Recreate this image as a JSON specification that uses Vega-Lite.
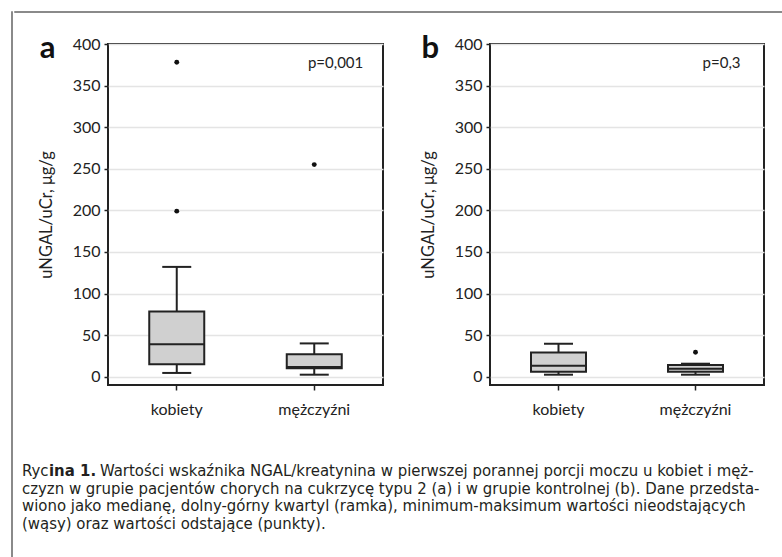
{
  "$schema": "https://vega.github.io/schema/vega-lite/v6.json",
  "padding": {"left": 10, "top": 10, "right": 0, "bottom": 0},
  "autosize": {"type": "pad"},
  "background": "white",
  "config": {
    "font": "Lato",
    "view": {"stroke": null},
    "concat": {"spacing": 0}
  },
  "datasets": {
    "boxA": [
      {"group": "kobiety", "min": 4.5, "q1": 15, "median": 39, "q3": 78.5, "max": 132},
      {"group": "mężczyźni", "min": 2.4, "q1": 10, "median": 11.5, "q3": 27, "max": 40}
    ],
    "outA": [
      {"group": "kobiety", "value": 378},
      {"group": "kobiety", "value": 199},
      {"group": "mężczyźni", "value": 255}
    ],
    "boxB": [
      {"group": "kobiety", "min": 2.4, "q1": 6, "median": 13, "q3": 29, "max": 39.6},
      {"group": "mężczyźni", "min": 2.4, "q1": 6, "median": 9.5, "q3": 14, "max": 15.6}
    ],
    "outB": [
      {"group": "mężczyźni", "value": 29.3}
    ],
    "caption": [
      {"line": 1, "seg": "a", "pos": 0, "text": "Ryc"},
      {"line": 1, "seg": "b", "pos": 0, "text": "ina 1."},
      {"line": 1, "seg": "c", "pos": 0, "text": "Wartości wskaźnika NGAL/kreatynina w pierwszej porannej porcji moczu u kobiet i męż-"},
      {"line": 2, "seg": "a", "pos": 0, "text": "czyzn w grupie pacjentów chorych na cukrzycę typu 2 (a) i w grupie kontrolnej (b). Dane przedsta-"},
      {"line": 3, "seg": "a", "pos": 0, "text": "wiono jako medianę, dolny-górny kwartyl (ramka), minimum-maksimum wartości nieodstających"},
      {"line": 4, "seg": "a", "pos": 0, "text": "(wąsy) oraz wartości odstające (punkty)."}
    ]
  },
  "hconcat": [
    {
      "width": 1, "height": 547,
      "view": {"stroke": "#8a8a8a", "strokeWidth": 1},
      "data": {"values": []},
      "mark": "point"
    },
    {
      "vconcat": [
        {
          "width": 772, "height": 1,
          "view": {"stroke": "#8a8a8a", "strokeWidth": 1},
          "data": {"values": []},
          "mark": "point"
        },
        {
          "vconcat": [
            {
              "hconcat": [
                {
                  "width": 13, "height": 10,
                  "data": {"values": []},
                  "mark": "point"
                },
                {
                  "hconcat": [
                    {
                      "width": 275, "height": 341,
                      "view": {"stroke": "#222222", "strokeWidth": 2},
                      "encoding": {
                        "x": {"field": "group", "type": "nominal", "title": null,
                          "scale": {"domain": ["kobiety", "mężczyźni"], "paddingInner": 0, "paddingOuter": 0},
                          "axis": {"labelAngle": 0, "domain": false, "ticks": true, "tickSize": 5, "tickColor": "#222222", "tickWidth": 1.5, "labelFont": "Lato", "labelFontSize": 16, "labelColor": "#222222", "labelPadding": 11, "grid": false}}
                      },
                      "layer": [
                        {
                          "data": {"name": "boxA"},
                          "mark": {"type": "rule", "color": "#222222", "strokeWidth": 2},
                          "encoding": {
                            "y": {"field": "min", "type": "quantitative", "title": "uNGAL/uCr,  μg/g",
                              "scale": {"domain": [-10, 400], "nice": false, "zero": false},
                              "axis": {"values": [0, 50, 100, 150, 200, 250, 300, 350, 400], "grid": true, "gridColor": "#e4e4e4", "gridWidth": 1.5, "domain": false, "tickSize": 4, "tickColor": "#222222", "tickWidth": 1.5, "labelFont": "Lato", "labelFontSize": 16, "labelColor": "#222222", "labelPadding": 4, "titleFont": "Lato", "titleFontSize": 16.5, "titleFontWeight": "normal", "titleColor": "#222222", "titlePadding": 18}},
                            "y2": {"field": "max"}
                          }
                        },
                        {
                          "data": {"name": "boxA"},
                          "mark": {"type": "bar", "width": 55, "fill": "#d0d0d0", "stroke": "#222222", "strokeWidth": 2},
                          "encoding": {
                            "y": {"field": "q1", "type": "quantitative", "title": "uNGAL/uCr,  μg/g"},
                            "y2": {"field": "q3"}
                          }
                        },
                        {
                          "data": {"name": "boxA"},
                          "mark": {"type": "tick", "size": 55, "thickness": 2, "color": "#222222", "opacity": 1},
                          "encoding": {"y": {"field": "median", "type": "quantitative", "title": "uNGAL/uCr,  μg/g"}}
                        },
                        {
                          "data": {"name": "boxA"},
                          "mark": {"type": "tick", "size": 29, "thickness": 2, "color": "#222222", "opacity": 1},
                          "encoding": {"y": {"field": "min", "type": "quantitative", "title": "uNGAL/uCr,  μg/g"}}
                        },
                        {
                          "data": {"name": "boxA"},
                          "mark": {"type": "tick", "size": 29, "thickness": 2, "color": "#222222", "opacity": 1},
                          "encoding": {"y": {"field": "max", "type": "quantitative", "title": "uNGAL/uCr,  μg/g"}}
                        },
                        {
                          "data": {"name": "outA"},
                          "mark": {"type": "circle", "size": 24, "color": "#111111", "opacity": 1},
                          "encoding": {"y": {"field": "value", "type": "quantitative", "title": "uNGAL/uCr,  μg/g"}}
                        },
                        {
                          "data": {"values": [{}]},
                          "mark": {"type": "text", "align": "right", "baseline": "middle", "dx": 49, "dy": 19, "fontSize": 15, "font": "Lato", "color": "#222222"},
                          "encoding": {"x": {"datum": "mężczyźni"}, "y": {"datum": 400}, "text": {"value": "p=0,001"}}
                        },
                        {
                          "data": {"values": [{}]},
                          "mark": {"type": "text", "align": "left", "baseline": "alphabetic", "dx": -137, "dy": 14, "fontSize": 31, "fontWeight": "bold", "font": "Lato", "color": "#111111"},
                          "encoding": {"x": {"datum": "kobiety"}, "y": {"datum": 400}, "text": {"value": "a"}}
                        }
                      ]
                    },
                    {
                      "width": 274, "height": 341,
                      "view": {"stroke": "#222222", "strokeWidth": 2},
                      "encoding": {
                        "x": {"field": "group", "type": "nominal", "title": null,
                          "scale": {"domain": ["kobiety", "mężczyźni"], "paddingInner": 0, "paddingOuter": 0},
                          "axis": {"labelAngle": 0, "domain": false, "ticks": true, "tickSize": 5, "tickColor": "#222222", "tickWidth": 1.5, "labelFont": "Lato", "labelFontSize": 16, "labelColor": "#222222", "labelPadding": 11, "grid": false}}
                      },
                      "layer": [
                        {
                          "data": {"name": "boxB"},
                          "mark": {"type": "rule", "color": "#222222", "strokeWidth": 2},
                          "encoding": {
                            "y": {"field": "min", "type": "quantitative", "title": "uNGAL/uCr,  μg/g",
                              "scale": {"domain": [-10, 400], "nice": false, "zero": false},
                              "axis": {"values": [0, 50, 100, 150, 200, 250, 300, 350, 400], "grid": true, "gridColor": "#e4e4e4", "gridWidth": 1.5, "domain": false, "tickSize": 4, "tickColor": "#222222", "tickWidth": 1.5, "labelFont": "Lato", "labelFontSize": 16, "labelColor": "#222222", "labelPadding": 4, "titleFont": "Lato", "titleFontSize": 16.5, "titleFontWeight": "normal", "titleColor": "#222222", "titlePadding": 18}},
                            "y2": {"field": "max"}
                          }
                        },
                        {
                          "data": {"name": "boxB"},
                          "mark": {"type": "bar", "width": 55, "fill": "#d0d0d0", "stroke": "#222222", "strokeWidth": 2},
                          "encoding": {
                            "y": {"field": "q1", "type": "quantitative", "title": "uNGAL/uCr,  μg/g"},
                            "y2": {"field": "q3"}
                          }
                        },
                        {
                          "data": {"name": "boxB"},
                          "mark": {"type": "tick", "size": 55, "thickness": 2, "color": "#222222", "opacity": 1},
                          "encoding": {"y": {"field": "median", "type": "quantitative", "title": "uNGAL/uCr,  μg/g"}}
                        },
                        {
                          "data": {"name": "boxB"},
                          "mark": {"type": "tick", "size": 29, "thickness": 2, "color": "#222222", "opacity": 1},
                          "encoding": {"y": {"field": "min", "type": "quantitative", "title": "uNGAL/uCr,  μg/g"}}
                        },
                        {
                          "data": {"name": "boxB"},
                          "mark": {"type": "tick", "size": 29, "thickness": 2, "color": "#222222", "opacity": 1},
                          "encoding": {"y": {"field": "max", "type": "quantitative", "title": "uNGAL/uCr,  μg/g"}}
                        },
                        {
                          "data": {"name": "outB"},
                          "mark": {"type": "circle", "size": 24, "color": "#111111", "opacity": 1},
                          "encoding": {"y": {"field": "value", "type": "quantitative", "title": "uNGAL/uCr,  μg/g"}}
                        },
                        {
                          "data": {"values": [{}]},
                          "mark": {"type": "text", "align": "right", "baseline": "middle", "dx": 45, "dy": 19, "fontSize": 15, "font": "Lato", "color": "#222222"},
                          "encoding": {"x": {"datum": "mężczyźni"}, "y": {"datum": 400}, "text": {"value": "p=0,3"}}
                        },
                        {
                          "data": {"values": [{}]},
                          "mark": {"type": "text", "align": "left", "baseline": "alphabetic", "dx": -137, "dy": 14, "fontSize": 31, "fontWeight": "bold", "font": "Lato", "color": "#111111"},
                          "encoding": {"x": {"datum": "kobiety"}, "y": {"datum": 400}, "text": {"value": "b"}}
                        }
                      ]
                    }
                  ],
                  "spacing": 35
                }
              ],
              "spacing": 10
            },
            {
              "width": 752, "height": 53,
              "data": {"name": "caption"},
              "encoding": {
                "y": {"field": "line", "type": "ordinal", "scale": {"type": "point", "padding": 0}, "axis": null},
                "x": {"field": "pos", "type": "quantitative", "scale": {"domain": [0, 1]}, "axis": null},
                "text": {"field": "text"}
              },
              "layer": [
                {
                  "transform": [{"filter": "datum.seg == 'a'"}],
                  "mark": {"type": "text", "align": "left", "baseline": "middle", "dx": 8, "font": "DejaVu Sans Condensed", "fontSize": 16.6, "color": "#231f20"}
                },
                {
                  "transform": [{"filter": "datum.seg == 'b'"}],
                  "mark": {"type": "text", "align": "left", "baseline": "middle", "dx": 35, "font": "DejaVu Sans Condensed", "fontSize": 16.6, "fontWeight": "bold", "color": "#231f20"}
                },
                {
                  "transform": [{"filter": "datum.seg == 'c'"}],
                  "mark": {"type": "text", "align": "left", "baseline": "middle", "dx": 86, "font": "DejaVu Sans Condensed", "fontSize": 16.6, "color": "#231f20"}
                }
              ]
            }
          ],
          "spacing": 45
        }
      ],
      "spacing": 19
    }
  ]
}
